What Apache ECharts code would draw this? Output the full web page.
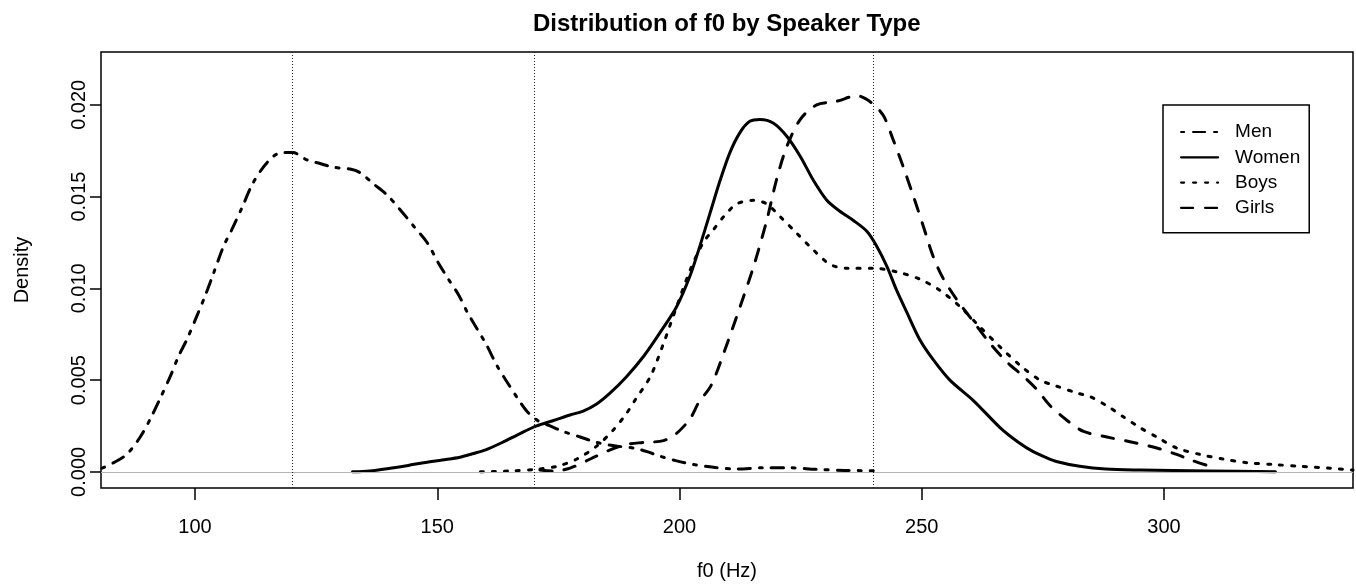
<!DOCTYPE html>
<html lang="en">
<head>
    <meta charset="UTF-8">
    <title>Distribution of f0 by Speaker Type</title>
    <script src="https://cdn.jsdelivr.net/npm/echarts/dist/echarts.min.js"></script>
    <style>
        html, body { margin: 0; padding: 0; background: #ffffff; }
        #main { width: 1356px; height: 586px; }
    </style>
</head>
<body>
    <div id="main"></div>
    <script>
        // density estimates (f0 in Hz, density)
        var menF = [80.8, 83.2, 85.9, 88.7, 90.8, 92.8, 94.9, 96.6, 98.3, 100.4, 102.1, 103.8, 105.9, 107.6, 109.7, 111.7, 113.8, 116.2, 118.0, 120.2, 123.1, 125.8, 128.6, 132.0, 134.1, 136.8, 139.6, 142.3, 145.1, 147.9, 150.2, 152.3, 154.5, 156.2, 158.2, 160.2, 162.3, 164.4, 166.6, 168.5, 170.7, 173.3, 176.0, 179.5, 183.0, 187.1, 190.5, 193.3, 196.0, 199.4, 202.9, 207.0, 212.0, 217.0, 223.0, 228.0, 234.0, 240.0];
        var menD = [0.0002, 0.0005, 0.00095, 0.0019, 0.0029, 0.0040, 0.0052, 0.0063, 0.0072, 0.0085, 0.0096, 0.0108, 0.0123, 0.0132, 0.0144, 0.0156, 0.0165, 0.0172, 0.0174, 0.0174, 0.0170, 0.0168, 0.0166, 0.0165, 0.0163, 0.0157, 0.0151, 0.0143, 0.0134, 0.0125, 0.0114, 0.0105, 0.0096, 0.0087, 0.0078, 0.0069, 0.0058, 0.0049, 0.0040, 0.0033, 0.0028, 0.0025, 0.0022, 0.0019, 0.0016, 0.0014, 0.0013, 0.0011, 0.00085, 0.0006, 0.0004, 0.00025, 0.00015, 0.00022, 0.00022, 0.00014, 0.00008, 0.00006];

        var womenF = [132.5, 136, 140.3, 144, 147.2, 151, 154.7, 157.5, 160, 163.4, 167.2, 170.5, 174, 177.4, 180, 182.9, 185.7, 189.1, 192.6, 196, 199.4, 202.2, 204.2, 206.3, 208.4, 210.4, 212.5, 214.5, 216.6, 219.4, 222.1, 224.9, 227.6, 230.4, 233.1, 235.9, 238.7, 240.7, 242.8, 244.8, 246.9, 249.6, 252.4, 255.8, 260.6, 266.2, 270, 273, 275.5, 278, 282.6, 288, 295, 309, 323];
        var womenD = [0, 0.00005, 0.0002, 0.00035, 0.0005, 0.00065, 0.0008, 0.001, 0.0012, 0.0016, 0.0021, 0.0025, 0.0028, 0.0031, 0.0033, 0.0037, 0.0043, 0.0052, 0.0063, 0.0076, 0.009, 0.0107, 0.0123, 0.0141, 0.0159, 0.0174, 0.0185, 0.0191, 0.0192, 0.019, 0.0183, 0.0172, 0.0159, 0.0148, 0.0142, 0.0137, 0.0131, 0.0123, 0.0112, 0.0099, 0.0087, 0.0072, 0.0061, 0.005, 0.0039, 0.0024, 0.0016, 0.0011, 0.0008, 0.00055, 0.0003, 0.00015, 0.0001, 0.00005, 0];

        var boysF = [158.9, 165, 170.5, 174.7, 178.8, 182.9, 186.4, 189.1, 190.8, 194, 196.7, 199.4, 202.2, 204.9, 207, 209.1, 211.8, 215.3, 218, 220.8, 224.2, 227.6, 231.1, 234.5, 240, 244.8, 249.6, 253.7, 257.9, 262, 266.2, 270.3, 274.4, 277.5, 282, 284.7, 288.2, 291.6, 295.1, 298.5, 302.6, 307.4, 312.2, 317.1, 322.6, 328.1, 334.3, 339];
        var boysD = [0, 0.00005, 0.00014, 0.0003, 0.0007, 0.0014, 0.0023, 0.0032, 0.0039, 0.0052, 0.007, 0.009, 0.011, 0.0125, 0.0132, 0.0139, 0.0146, 0.0148, 0.0146, 0.0139, 0.013, 0.0121, 0.0113, 0.0111, 0.0111, 0.0109, 0.0105, 0.0099, 0.009, 0.0079, 0.0068, 0.0058, 0.005, 0.0047, 0.0043, 0.0041, 0.0036, 0.003, 0.0024, 0.0019, 0.0013, 0.00095, 0.0007, 0.0005, 0.0004, 0.0003, 0.0002, 0.0001];

        var girlsF = [171.2, 174, 177.4, 181.6, 185.7, 189.1, 192.5, 196.7, 199.4, 202.2, 204, 206.5, 209.3, 212.5, 215.3, 218, 220, 222.1, 224.9, 228.3, 232.5, 236.6, 239.7, 242.1, 244.1, 246.2, 248.3, 250.3, 252.4, 254.5, 257.2, 260.6, 264.1, 267.5, 271, 273.7, 276.5, 280, 283.4, 288.2, 293.7, 298.5, 302.6, 306, 309.5];
        var girlsD = [0.0001, 0.00004, 0.0002, 0.0007, 0.0012, 0.0015, 0.0016, 0.0017, 0.0021, 0.0029, 0.0038, 0.0047, 0.0066, 0.009, 0.0112, 0.0137, 0.0159, 0.0177, 0.0192, 0.02, 0.0202, 0.0205, 0.0201, 0.0194, 0.0181, 0.0166, 0.015, 0.0134, 0.0117, 0.0105, 0.0094, 0.0082, 0.007, 0.006, 0.0052, 0.0045, 0.0036, 0.0028, 0.0022, 0.0019, 0.0016, 0.0013, 0.00095, 0.0006, 0.0003];

        var xTicks = [100, 150, 200, 250, 300];
        var yTicks = [0, 0.005, 0.010, 0.015, 0.020];
        var refLines = [120, 170, 240];
        var speakers = ['Men', 'Women', 'Boys', 'Girls'];

        var font = "'Liberation Sans', Arial, sans-serif";

        function pairs(xs, ys) {
            return xs.map(function (x, i) { return [x, ys[i]]; });
        }

        // R style line types: dotdash, solid, dotted, dashed
        var dash = { Men: [3, 9, 12, 9], Women: 'solid', Boys: [3, 9], Girls: [12, 12] };
        var curveData = {
            Men: pairs(menF, menD),
            Women: pairs(womenF, womenD),
            Boys: pairs(boysF, boysD),
            Girls: pairs(girlsF, girlsD)
        };

        var chart = echarts.init(document.getElementById('main'));

        var series = speakers.map(function (name) {
            return {
                name: name,
                type: 'line',
                data: curveData[name],
                showSymbol: false,
                symbol: 'none',
                smooth: 0.3,
                lineStyle: { color: '#000', width: 3, type: dash[name], cap: 'round', join: 'round' },
                z: 3
            };
        });

        // gray zero line and dotted verticals
        series[1].markLine = {
            silent: true,
            symbol: 'none',
            label: { show: false },
            animation: false,
            data: [{ yAxis: 0, lineStyle: { color: '#b5b5b5', width: 1, type: 'solid' } }].concat(
                refLines.map(function (v) {
                    return { xAxis: v, lineStyle: { color: '#222', width: 1, type: [1, 2] } };
                })
            )
        };

        var option = {
            animation: false,
            backgroundColor: '#ffffff',
            title: {
                text: 'Distribution of f0 by Speaker Type',
                left: 533,
                top: 12,
                padding: 0,
                textStyle: { fontFamily: font, fontSize: 24, fontWeight: 'bold', color: '#000' }
            },
            legend: {
                orient: 'vertical',
                left: 1163,
                top: 105,
                padding: [17.5, 9, 15.3, 17],
                itemWidth: 37,
                itemHeight: 14,
                itemGap: 6.3,
                selectedMode: false,
                borderColor: '#000',
                borderWidth: 1.5,
                borderRadius: 0,
                itemStyle: { opacity: 0 },
                textStyle: { fontFamily: font, fontSize: 19, color: '#000', padding: [0, 0, 0, 12] },
                data: speakers.map(function (name) {
                    return {
                        name: name,
                        lineStyle: { color: '#000', width: 2.2, type: dash[name], cap: 'round' }
                    };
                })
            },
            grid: {
                left: 101,
                right: 3,
                top: 52,
                bottom: 97.5,
                show: true,
                borderColor: '#000',
                borderWidth: 1.5,
                backgroundColor: 'transparent'
            },
            xAxis: {
                type: 'value',
                min: 80.6,
                max: 339,
                name: 'f0 (Hz)',
                nameLocation: 'middle',
                nameGap: 73,
                nameTextStyle: { fontFamily: font, fontSize: 20, color: '#000' },
                axisLine: { show: false, onZero: false },
                splitLine: { show: false },
                axisTick: {
                    show: true,
                    length: 12,
                    customValues: xTicks,
                    lineStyle: { color: '#000', width: 1.5 }
                },
                axisLabel: {
                    customValues: xTicks,
                    margin: 29,
                    fontFamily: font,
                    fontSize: 20,
                    color: '#000'
                }
            },
            yAxis: {
                type: 'value',
                min: -0.00088,
                max: 0.02288,
                name: 'Density',
                nameLocation: 'middle',
                nameGap: 69,
                nameRotate: 90,
                nameTextStyle: { fontFamily: font, fontSize: 20, color: '#000' },
                axisLine: { show: false, onZero: false },
                splitLine: { show: false },
                axisTick: {
                    show: true,
                    length: 11,
                    customValues: yTicks,
                    lineStyle: { color: '#000', width: 1.5 }
                },
                axisLabel: {
                    customValues: yTicks,
                    rotate: 90,
                    margin: 12,
                    fontFamily: font,
                    fontSize: 20,
                    color: '#000',
                    formatter: function (v) { return v.toFixed(3); }
                }
            },
            series: series
        };

        chart.setOption(option);
    </script>
</body>
</html>
